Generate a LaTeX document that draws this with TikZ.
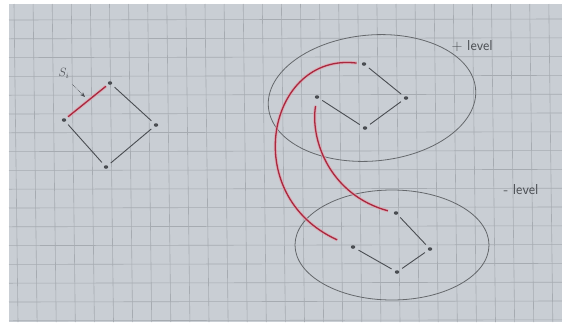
\documentclass[tikz,border=0pt]{standalone}
\usetikzlibrary{arrows.meta,shapes.geometric}
\definecolor{paper}{HTML}{C9CED4}
\definecolor{gridc}{HTML}{A6ABB1}
\definecolor{ink}{HTML}{4A4D52}
\definecolor{redink}{HTML}{A8283E}
\definecolor{glow}{HTML}{E3A3AE}
\tikzset{
  vtx/.style={ellipse,fill=ink,inner sep=0pt,minimum width=4.5pt,minimum height=3.5pt},
  edge/.style={draw=ink,line width=0.9pt,shorten >=4pt,shorten <=4pt},
  rededge/.style={draw=redink,line width=1.3pt},
  glowedge/.style={draw=glow,line width=3.2pt,opacity=0.7},
  blob/.style={draw=ink!85,line width=0.8pt},
  lbl/.style={text=ink,font=\sffamily\Large}
}
\begin{document}
\begin{tikzpicture}[x=1pt,y=-1pt]
\useasboundingbox (0,0) rectangle (562,322);
\fill[white] (0,0) rectangle (562,322);
\fill[paper] (9,4) rectangle (562,322);
\foreach \i in {0,...,29} {\draw[gridc,line width=0.6pt] ({14+19.1*\i},4) -- ({18+19.1*\i},322);}
\foreach \j in {0,...,16} {\draw[gridc,line width=0.6pt] (9,{20+18.8*\j}) -- (562,{19+18.8*\j});}
% left diamond
\node[vtx] (a1) at (64,120) {};
\node[vtx] (a2) at (110,83) {};
\node[vtx] (a3) at (156,125) {};
\node[vtx] (a4) at (106,167) {};
\draw[glowedge,shorten >=3pt,shorten <=3pt] (a1) -- (a2);
\draw[rededge,shorten >=3pt,shorten <=3pt] (a1) -- (a2);
\draw[edge] (a2) -- (a3);
\draw[edge] (a1) -- (a4);
\draw[edge] (a4) -- (a3);
\node[text=ink,font=\large] (si) at (64,73) {$S_i$};
\coordinate (sip) at (85,97);
\draw[ink,line width=0.7pt,densely dotted,-{Stealth[length=5pt,width=4pt]}] (72,84) -- (sip);
% upper component
\draw[blob,rotate around={5:(372,98)}] (372,98) ellipse [x radius=104, y radius=63];
\node[vtx] (u1) at (364,64) {};
\node[vtx] (u2) at (317,97) {};
\node[vtx] (u3) at (406,98) {};
\node[vtx] (u4) at (365,128) {};
\draw[edge] (u1) -- (u3);
\draw[edge] (u2) -- (u4);
\draw[edge] (u4) -- (u3);
\node[lbl,anchor=west] (plus) at (448,46) {+ level};
% lower component
\draw[blob] (392,245) ellipse [x radius=97, y radius=55];
\node[vtx] (l1) at (396,213) {};
\node[vtx] (l2) at (353,247) {};
\node[vtx] (l3) at (430,249) {};
\node[vtx] (l4) at (397,272) {};
\draw[edge] (l1) -- (l3);
\draw[edge] (l2) -- (l4);
\draw[edge] (l4) -- (l3);
\node[lbl,anchor=west] (minus) at (500,190) {- level};
% red connections
\draw[glowedge,shorten <=5pt,shorten >=15pt] (u1) .. controls (268,52) and (238,195) .. (l2);
\draw[rededge,shorten <=5pt,shorten >=15pt] (u1) .. controls (268,52) and (238,195) .. (l2);
\draw[glowedge,shorten <=7pt,shorten >=6pt] (u2) .. controls (310,140) and (330,195) .. (l1);
\draw[rededge,shorten <=7pt,shorten >=6pt] (u2) .. controls (310,140) and (330,195) .. (l1);
\end{tikzpicture}
\end{document}
